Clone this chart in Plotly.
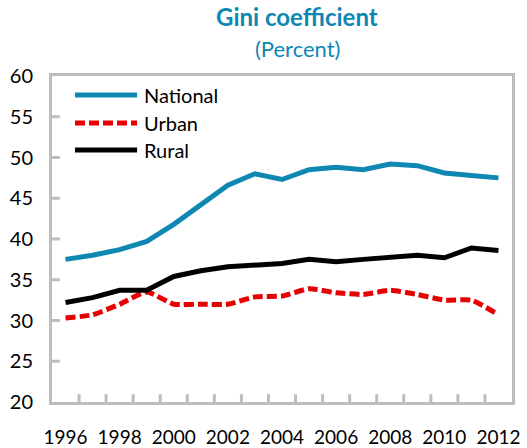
import plotly.graph_objects as go

# Gini coefficient by area, 1996-2012 (percent)
years = list(range(1996, 2013))
national = [37.5, 38.0, 38.7, 39.7, 41.8, 44.2, 46.6, 48.0, 47.3, 48.5, 48.8, 48.5, 49.2, 49.0, 48.1, 47.8, 47.5]
urban = [30.3, 30.7, 32.0, 33.5, 32.0, 32.0, 32.0, 32.9, 33.0, 33.9, 33.4, 33.2, 33.7, 33.2, 32.5, 32.5, 30.7]
rural = [32.2, 32.8, 33.7, 33.7, 35.4, 36.1, 36.6, 36.8, 37.0, 37.5, 37.2, 37.5, 37.8, 38.0, 37.7, 38.9, 38.6]
series_names = ["National", "Urban", "Rural"]
x_tick_labels = [str(y) for y in range(1996, 2013, 2)]
y_ticks = [20, 25, 30, 35, 40, 45, 50, 55, 60]

BLUE = "#0f87b3"
RED = "#e60000"
BLACK = "#000000"
GRID = "#bdbdbd"
FONT = "Lato, 'Open Sans', sans-serif"

styles = [
    dict(color=BLUE, width=5, dash="solid", shape="linear"),
    dict(color=RED, width=5, dash="10px,4px", shape="spline", smoothing=0.5),
    dict(color=BLACK, width=5, dash="solid", shape="linear"),
]

fig = go.Figure()
for name, values, st in zip(series_names, [national, urban, rural], styles):
    fig.add_trace(go.Scatter(x=years, y=values, mode="lines", name=name,
                             line=st, showlegend=False))

# Inside tick marks: year-axis marks sit between consecutive years,
# value-axis marks at each labelled value
for yr in years[:-1]:
    fig.add_shape(type="line", xref="x", yref="paper",
                  x0=yr + 0.5, x1=yr + 0.5, y0=0, y1=0.024,
                  line=dict(color=GRID, width=3), layer="above")
for v in y_ticks[1:-1]:
    fig.add_shape(type="line", xref="paper", yref="y",
                  x0=0, x1=0.017, y0=v, y1=v,
                  line=dict(color=GRID, width=3), layer="above")

# Legend drawn as line samples plus labels inside the plot area
legend_y = [0.942, 0.856, 0.773]
for name, st, ly in zip(series_names, styles, legend_y):
    fig.add_shape(type="line", xref="paper", yref="paper",
                  x0=0.05, x1=0.185, y0=ly, y1=ly,
                  line=dict(color=st["color"], width=5, dash=st["dash"]))
    fig.add_annotation(x=0.196, y=ly, xref="paper", yref="paper",
                       text=name, showarrow=False, xanchor="left", yanchor="middle",
                       font=dict(family=FONT, size=20, color="#000000"))

fig.add_annotation(x=0.533, y=1.181, xref="paper", yref="paper",
                   text="<b>Gini coefficient</b>", showarrow=False,
                   xanchor="center", yanchor="middle",
                   font=dict(family=FONT, size=24, color=BLUE))
fig.add_annotation(x=0.533, y=1.083, xref="paper", yref="paper",
                   text="(Percent)", showarrow=False,
                   xanchor="center", yanchor="middle",
                   font=dict(family=FONT, size=22, color=BLUE))

fig.update_xaxes(
    range=[1995.5, 2012.5],
    tickvals=list(range(1996, 2013, 2)), ticktext=x_tick_labels,
    ticks="", ticklabelstandoff=16, automargin=False,
    showline=True, linecolor=GRID, linewidth=3, mirror=True,
    showgrid=False, zeroline=False,
    tickfont=dict(family=FONT, size=19, color="#000000"),
)
fig.update_yaxes(
    range=[20, 60], tickvals=y_ticks, automargin=False,
    ticks="", ticklabelstandoff=12,
    showline=True, linecolor=GRID, linewidth=3, mirror=True,
    showgrid=False, zeroline=False,
    tickfont=dict(family=FONT, size=20, color="#000000"),
)

fig.update_layout(
    width=527, height=448,
    margin=dict(l=52, r=15, t=76, b=46),
    paper_bgcolor="white", plot_bgcolor="rgba(0,0,0,0)",
    showlegend=False,
)

fig.write_html("out.html")
